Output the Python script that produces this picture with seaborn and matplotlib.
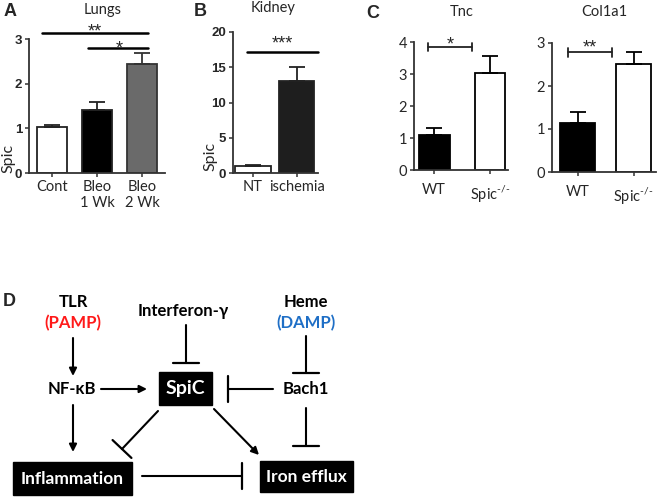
import numpy as np
import pandas as pd
import seaborn as sns
import matplotlib.pyplot as plt
from matplotlib.patches import Rectangle

# ==========================================
# Data
# ==========================================
lung_groups = ['Cont', 'Bleo\n1 Wk', 'Bleo\n2 Wk']
lung_spic = [1.03, 1.40, 2.43]
lung_err = [0.05, 0.20, 0.25]

kidney_groups = ['NT', 'ischemia']
kidney_spic = [1.0, 13.1]
kidney_err = [0.1, 2.0]

geno_groups = ['WT', 'Spic$^{\\text{-/-}}$']
tnc_vals = [1.08, 3.02]
tnc_err = [0.22, 0.55]
col_vals = [1.15, 2.52]
col_err = [0.25, 0.27]

sns.set_style('ticks')
plt.rcParams['font.family'] = ['Lato', 'DejaVu Sans']
plt.rcParams['mathtext.fontset'] = 'custom'
plt.rcParams['mathtext.rm'] = 'Lato'

W, H = 657, 497
fig = plt.figure(figsize=(W / 100, H / 100), dpi=100)


def px(x, y):
    return x / W, 1 - y / H


def add_ax(left, top, right, bottom):
    return fig.add_axes([left / W, 1 - bottom / H, (right - left) / W, (bottom - top) / H])


def stars(ax, x, y, s, gap):
    # gap: pixels between line and bottom of the asterisks
    ax.annotate(s, (x, y), xytext=(0, (gap - 7.0) * 0.72), textcoords='offset points',
                ha='center', va='baseline', fontsize=13,
                family='Liberation Sans', annotation_clip=False)


def bar_panel(ax, groups, vals, errs, fills, edges, width, ylim, yticks, bold):
    df = pd.DataFrame({'g': groups, 'v': vals})
    sns.barplot(data=df, x='g', y='v', hue='g', palette=dict(zip(groups, fills)),
                legend=False, width=width, saturation=1, ax=ax, linewidth=1.3)
    for patch, ec in zip(ax.patches, edges):
        patch.set_edgecolor(ec)
    for i, (v, e) in enumerate(zip(vals, errs)):
        ax.errorbar(i, v, yerr=[[0], [e]], fmt='none', ecolor=edges[i],
                    elinewidth=1.3, capsize=6, capthick=1.3, zorder=1)
    ax.set_ylim(*ylim)
    ax.set_yticks(yticks)
    ax.set_xlabel('')
    ax.set_ylabel('')
    sns.despine(ax=ax)
    for s in ['left', 'bottom']:
        ax.spines[s].set_linewidth(1.3)
        ax.spines[s].set_color('#333333')
    ax.tick_params(length=3, width=1.1, color='#333333', labelsize=10.5, pad=2)
    if bold:
        for t in ax.get_yticklabels():
            t.set_fontfamily('Liberation Sans')
            t.set_fontweight('bold')
            t.set_fontsize(9.5)


# ---------- Panel A: Lungs ----------
axA = add_ax(29, 39, 165, 173)
bar_panel(axA, lung_groups, lung_spic, lung_err,
          ['white', 'black', '#6a6a6a'], ['#222222', '#222222', '#333333'],
          0.67, (0, 3), [0, 1, 2, 3], True)
axA.set_xlim(-0.51, 2.51)
axA.plot([-0.22, 2.13], [3.13, 3.13], color='black', lw=1.8, clip_on=False)
stars(axA, 0.95, 3.13, '**', 4)
axA.plot([0.8, 2.13], [2.80, 2.80], color='black', lw=1.8, clip_on=False)
stars(axA, 1.5, 2.80, '*', 1.5)
fig.text(*px(103, 10), 'Lungs', ha='center', va='center', fontsize=10.5)
fig.text(*px(10, 11), 'A', ha='center', va='center', fontsize=13,
         fontweight='bold', family='Liberation Sans')
fig.text(*px(8, 158), 'Spic', ha='center', va='center', rotation=90, fontsize=11.5)

# ---------- Panel B: Kidney ----------
axB = add_ax(233, 32, 318, 173)
bar_panel(axB, kidney_groups, kidney_spic, kidney_err,
          ['white', '#1e1e1e'], ['#222222', '#222222'],
          0.8, (0, 20), [0, 5, 10, 15, 20], True)
axB.set_xlim(-0.455, 1.48)
axB.plot([-0.14, 1.48], [17.2, 17.2], color='black', lw=1.8, clip_on=False)
stars(axB, 0.67, 17.2, '***', 10)
fig.text(*px(273, 8), 'Kidney', ha='center', va='center', fontsize=10.5)
fig.text(*px(200, 12), 'B', ha='center', va='center', fontsize=13,
         fontweight='bold', family='Liberation Sans')
fig.text(*px(210, 156), 'Spic', ha='center', va='center', rotation=90, fontsize=11.5)

# ---------- Panel C: Tnc / Col1a1 ----------
axC1 = add_ax(414, 42, 508, 170)
bar_panel(axC1, geno_groups, tnc_vals, tnc_err,
          ['black', 'white'], ['black', 'black'],
          0.55, (0, 4), [0, 1, 2, 3, 4], False)
axC1.set_xlim(-0.36, 1.32)
axC1.tick_params(axis='x', pad=6)
axC1.plot([-0.11, 0.68], [3.85, 3.85], color='#222222', lw=1.3, clip_on=False)
for xe in [-0.11, 0.68]:
    axC1.plot([xe, xe], [3.72, 3.98], color='#222222', lw=1.3, clip_on=False)
stars(axC1, 0.28, 3.85, '*', 4)
fig.text(*px(462, 12), 'Tnc', ha='center', va='center', fontsize=10.5)
fig.text(*px(373, 13), 'C', ha='center', va='center', fontsize=13,
         fontweight='bold', family='Liberation Sans')

axC2 = add_ax(552, 43, 656, 172)
bar_panel(axC2, geno_groups, col_vals, col_err,
          ['black', 'white'], ['black', 'black'],
          0.62, (0, 3), [0, 1, 2, 3], False)
axC2.set_xlim(-0.46, 1.4)
axC2.tick_params(axis='x', pad=6)
axC2.plot([-0.18, 0.61], [2.78, 2.78], color='#222222', lw=1.3, clip_on=False)
for xe in [-0.18, 0.61]:
    axC2.plot([xe, xe], [2.68, 2.88], color='#222222', lw=1.3, clip_on=False)
stars(axC2, 0.21, 2.78, '**', 7)
fig.text(*px(604, 12), 'Col1a1', ha='center', va='center', fontsize=10.5)

# ---------- Panel D: pathway diagram ----------
axD = fig.add_axes([0, 0, 1, 1], zorder=-1)
axD.set_xlim(0, W)
axD.set_ylim(H, 0)
axD.axis('off')


def label(x, y, s, color='black', size=12):
    axD.text(x, y, s, ha='center', va='center', fontsize=size,
             fontweight='bold', color=color)


def box(x0, y0, x1, y1, s, size=12.5):
    axD.add_patch(Rectangle((x0, y0), x1 - x0, y1 - y0, color='black'))
    axD.text((x0 + x1) / 2, (y0 + y1) / 2, s, ha='center', va='center',
             fontsize=size, fontweight='bold', color='white')


def activate(p0, p1):
    axD.annotate('', xy=p1, xytext=p0,
                 arrowprops=dict(arrowstyle='-|>', lw=1.5, color='black',
                                 mutation_scale=11, shrinkA=0, shrinkB=0))


def inhibit(p0, p1, half=13):
    p0, p1 = np.array(p0, float), np.array(p1, float)
    d = (p1 - p0) / np.linalg.norm(p1 - p0)
    n = np.array([-d[1], d[0]])
    axD.plot([p0[0], p1[0]], [p0[1], p1[1]], color='black', lw=1.5)
    a, b = p1 + n * half, p1 - n * half
    axD.plot([a[0], b[0]], [a[1], b[1]], color='black', lw=1.6)


axD.text(9, 302, 'D', ha='center', va='center', fontsize=13,
         fontweight='bold', family='Liberation Sans')
label(73, 302, 'TLR')
label(73, 323, '(PAMP)', color='#ff1a1a')
label(183, 311, 'Interferon-γ')
label(306, 302, 'Heme')
label(306, 323, '(DAMP)', color='#1f6fc6')
label(72, 389, 'NF-κB')
label(306, 389, 'Bach1')
box(159, 372, 212, 405, 'SpiC', size=14)
box(13, 462, 132, 495, 'Inflammation')
box(260, 461, 353, 492, 'Iron efflux')

activate((73, 338), (73, 376))
activate((73, 405), (73, 452))
activate((101, 389), (147, 389))
activate((214, 409), (259, 455))
inhibit((186, 325), (186, 363))
inhibit((273, 389), (228, 389))
inhibit((306, 336), (306, 373))
inhibit((306, 408), (306, 446))
inhibit((158, 411), (122, 449))
inhibit((142, 476), (242, 476))

fig.savefig('out.png', dpi=100)
